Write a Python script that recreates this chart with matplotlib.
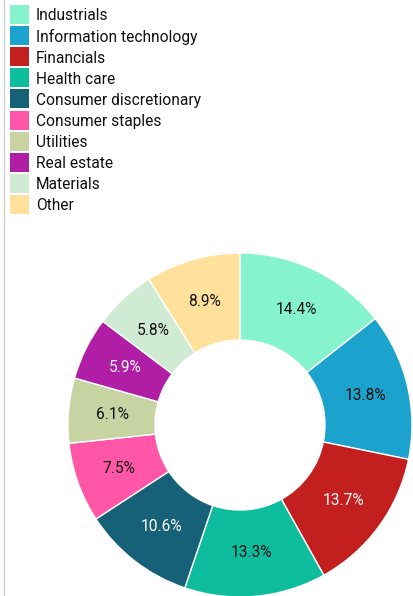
import matplotlib
matplotlib.use("Agg")
import matplotlib.pyplot as plt
from matplotlib.patches import Rectangle
from matplotlib.lines import Line2D

plt.rcParams['font.family'] = ['Roboto', 'DejaVu Sans']

sectors = ["Industrials", "Information technology", "Financials", "Health care",
           "Consumer discretionary", "Consumer staples", "Utilities", "Real estate",
           "Materials", "Other"]
weights = [14.4, 13.8, 13.7, 13.3, 10.6, 7.5, 6.1, 5.9, 5.8, 8.9]
colors = ["#86F3CF", "#1BA3CE", "#C41F1F", "#0EBD9D", "#166177",
          "#FF56A8", "#C8D3A3", "#B01EA6", "#CFEBD3", "#FFE19C"]
label_colors = ["#111111", "#111111", "white", "#111111", "white",
                "#111111", "#111111", "white", "#111111", "#111111"]

W, H = 413, 596
fig = plt.figure(figsize=(W / 100, H / 100), dpi=100)
fig.patch.set_facecolor("white")

# axes spanning the whole canvas, measured in pixels (y up)
ax = fig.add_axes([0, 0, 1, 1])

outer_r = 172
inner_r = 85
wedges, texts, autotexts = ax.pie(
    weights, colors=colors, startangle=90, counterclock=False,
    center=(240, H - 425), radius=outer_r,
    wedgeprops=dict(width=outer_r - inner_r, edgecolor="white", linewidth=1),
    autopct=lambda p: f"{p:.1f}%",
    pctdistance=(outer_r + inner_r) / 2 / outer_r,
    textprops=dict(fontsize=11.2),
    frame=True,
)
ax.set_xlim(0, W)
ax.set_ylim(0, H)
ax.set_aspect("equal")
ax.axis("off")
for t, c in zip(autotexts, label_colors):
    t.set_color(c)

# thin rule along the left edge
ax.add_line(Line2D([3.5, 3.5], [0, H], color="#d0d0d0", linewidth=1))

# legend: square swatches with names, stacked from the top
sw, pitch, top = 19, 21.1, 5
for i, (name, c) in enumerate(zip(sectors, colors)):
    y_top = H - (top + i * pitch)
    ax.add_patch(Rectangle((10, y_top - sw), sw, sw, facecolor=c, edgecolor="none"))
    ax.text(36, y_top - sw / 2, name, fontsize=11.2, color="#111111",
            va="center_baseline", ha="left")

fig.savefig("out.png", dpi=100)
